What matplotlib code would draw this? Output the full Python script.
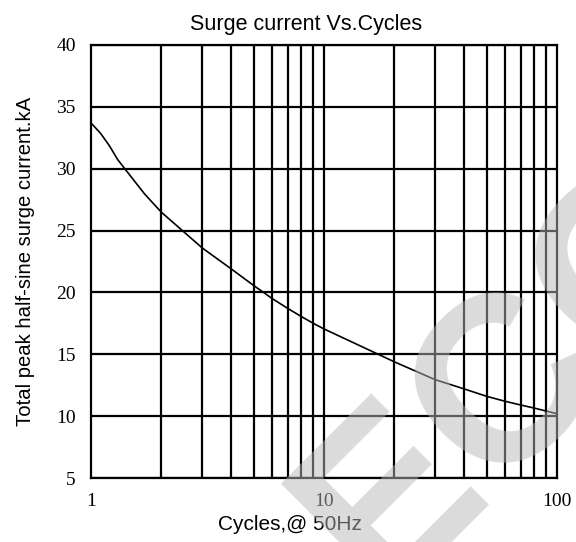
import matplotlib
matplotlib.use("Agg")
import matplotlib.pyplot as plt
import numpy as np

# Data
cycles = [1, 1.1, 1.2, 1.3, 1.5, 1.7, 2, 3, 4, 5, 6, 7, 8, 9, 10,
          15, 20, 30, 40, 50, 60, 70, 80, 100]
current_ka = [33.7, 32.85, 31.85, 30.75, 29.25, 27.95, 26.5, 23.6, 21.9, 20.55,
              19.5, 18.7, 18.05, 17.5, 17.05, 15.5, 14.4, 12.95, 12.2, 11.6,
              11.2, 10.9, 10.65, 10.2]
x_ticks = [1, 10, 100]
x_tick_labels = ["1", "10", "100"]
y_ticks = [5, 10, 15, 20, 25, 30, 35, 40]

fig = plt.figure(figsize=(5.76, 5.42), dpi=100)
ax = fig.add_axes([0.158, 0.118, 0.809, 0.799])

ax.set_xscale("log")
ax.set_xlim(1, 100)
ax.set_ylim(5, 40)

# Grid: all minor decade lines and major y lines
for d in [1, 10]:
    for m in range(2, 10):
        ax.axvline(d * m, color="black", lw=1.6, zorder=1)
ax.axvline(10, color="black", lw=1.6, zorder=1)
for y in y_ticks:
    ax.axhline(y, color="black", lw=1.6, zorder=1)

ax.plot(cycles, current_ka, color="black", lw=1.2, zorder=3)

for s in ax.spines.values():
    s.set_linewidth(1.6)
    s.set_color("black")

ax.set_xticks(x_ticks)
ax.set_xticklabels(x_tick_labels)
ax.xaxis.set_minor_locator(matplotlib.ticker.NullLocator())
ax.set_yticks(y_ticks)
ax.tick_params(length=0, pad=11, labelsize=14)
for lab in ax.get_xticklabels() + ax.get_yticklabels():
    lab.set_fontfamily("Liberation Serif")

ax.set_title("Surge current Vs.Cycles", fontsize=15.5, family="Liberation Sans",
             pad=11, x=0.461)
ax.set_xlabel("Cycles,@ 50Hz", fontsize=15, family="Liberation Sans", labelpad=3)
ax.xaxis.set_label_coords(0.427, -0.085)
ax.set_ylabel("Total peak half-sine surge current.kA", fontsize=14.6,
              family="Liberation Sans", labelpad=15)

# Watermark
fig.text(0.89, 0.30, "ECC", fontsize=170, color="#b8b8b8", alpha=0.5,
         rotation=45, ha="center", va="center", family="Liberation Sans",
         fontweight="bold", zorder=10)

fig.savefig("out.png", dpi=100)
